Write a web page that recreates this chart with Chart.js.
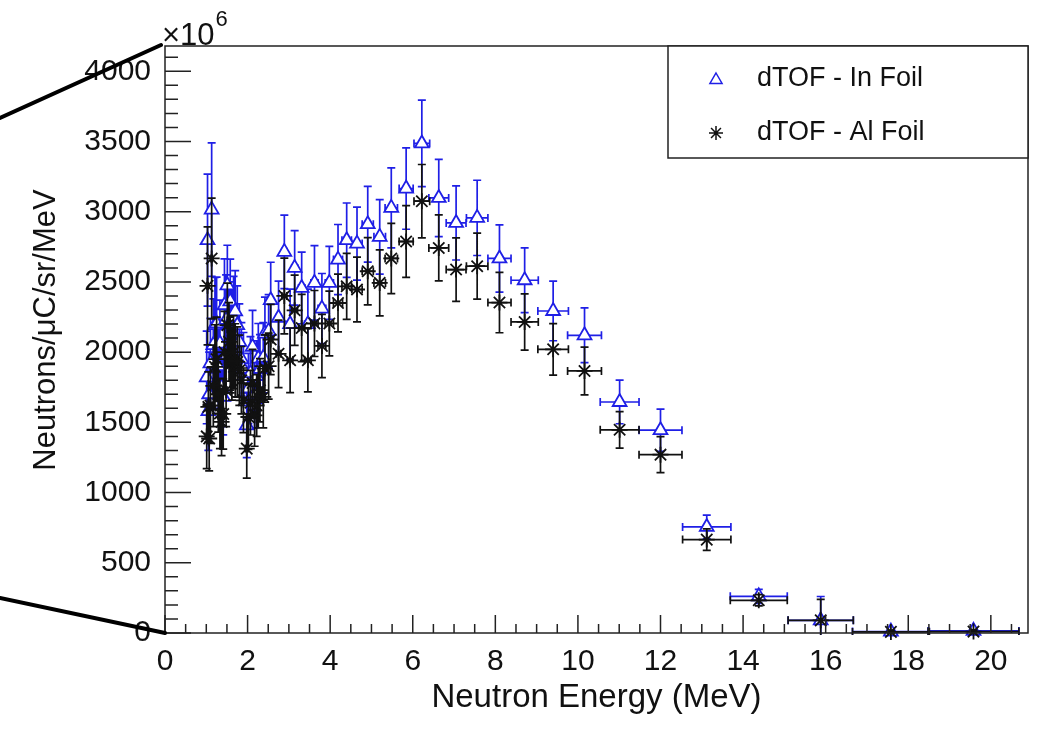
<!DOCTYPE html>
<html>
<head>
<meta charset="utf-8">
<script src="https://cdn.jsdelivr.net/npm/chart.js@4.4.1/dist/chart.umd.min.js"></script>
<style>
  html, body { margin: 0; padding: 0; background: #fff; }
</style>
</head>
<body>
<canvas id="chart" width="1038" height="729"></canvas>
<script>
"use strict";
// neutron energy (MeV) and half bin width
const energy = [
  1.01, 1.03, 1.05, 1.07, 1.10, 1.13, 1.17, 1.21, 1.25, 1.29, 1.33, 1.37, 1.41, 1.44, 1.48, 1.51, 1.55,
  1.58, 1.62, 1.66, 1.70, 1.75, 1.80, 1.85, 1.90, 1.98, 2.02, 2.07, 2.12, 2.17, 2.22, 2.26, 2.30, 2.38,
  2.42, 2.51, 2.56, 2.75, 2.89, 3.03, 3.14, 3.31, 3.46, 3.62, 3.80, 3.98, 4.19, 4.40, 4.65, 4.91, 5.20,
  5.48, 5.84, 6.22, 6.63, 7.05, 7.56, 8.10, 8.71, 9.40, 10.16, 11.01, 12.00, 13.12, 14.38, 15.88, 17.58, 19.58,
];
const energyErr = [
  0.015, 0.015, 0.015, 0.016, 0.016, 0.017, 0.018, 0.018, 0.019, 0.02, 0.02, 0.021, 0.022, 0.022, 0.023, 0.024, 0.025,
  0.026, 0.026, 0.027, 0.028, 0.029, 0.03, 0.031, 0.033, 0.035, 0.036, 0.037, 0.038, 0.04, 0.041, 0.042, 0.043, 0.045,
  0.047, 0.05, 0.051, 0.057, 0.062, 0.066, 0.07, 0.076, 0.081, 0.087, 0.094, 0.1, 0.11, 0.115, 0.125, 0.135, 0.14,
  0.15, 0.17, 0.19, 0.24, 0.24, 0.26, 0.28, 0.33, 0.37, 0.41, 0.47, 0.52, 0.585, 0.69, 0.79, 0.93, 1.1,
];
// dTOF - In Foil (x10^6)
const inFoil = [
  1820, 2797, 1580, 1700, 1920, 3015, 2050, 2192, 2204, 1900, 2061, 1750, 1681, 2334, 2230, 2476, 2200,
  2362, 2150, 2250, 2290, 2192, 2073, 1950, 1880, 1479, 1741, 1850, 2037, 1700, 1830, 1954, 1880, 1960,
  2132, 2150, 2370, 2245, 2714, 2199, 2600, 2457, 2199, 2493, 2310, 2493, 2659, 2797, 2773, 2911, 2821,
  3027, 3165, 3486, 3098, 2920, 2956, 2667, 2512, 2293, 2120, 1645, 1444, 755, 261, 90, 10, 15,
];
const inFoilErr = [
  330, 470, 280, 300, 320, 475, 330, 340, 330, 300, 310, 280, 270, 330, 320, 285, 300,
  300, 290, 290, 290, 280, 270, 260, 260, 230, 250, 260, 260, 240, 250, 250, 245, 250,
  260, 260, 270, 260, 262, 250, 265, 255, 250, 265, 250, 260, 250, 265, 260, 270, 265,
  285, 290, 308, 275, 264, 268, 239, 230, 212, 195, 155, 150, 85, 50, 170, 12, 12,
];
// dTOF - Al Foil (x10^6)
const alFoil = [
  1400, 2472, 1610, 1385, 1620, 2667, 1760, 1895, 1950, 1700, 1563, 1503, 1560, 2000, 1729, 2192, 2073,
  1980, 1919, 2000, 1942, 1930, 1871, 1800, 1657, 1313, 1538, 1640, 1780, 1550, 1620, 1681, 1729, 1681,
  1883, 1900, 2090, 1988, 2400, 1942, 2298, 2172, 1942, 2204, 2044, 2204, 2350, 2469, 2446, 2576, 2493,
  2667, 2788, 3075, 2742, 2588, 2612, 2353, 2215, 2020, 1866, 1447, 1270, 665, 233, 90, 8, 10,
];
const alFoilErr = [
  230, 420, 250, 230, 270, 430, 290, 300, 300, 270, 250, 240, 250, 290, 260, 300, 280,
  270, 260, 260, 260, 250, 250, 240, 230, 210, 230, 230, 240, 220, 220, 220, 225, 220,
  240, 235, 250, 240, 270, 230, 250, 240, 225, 235, 225, 230, 206, 235, 230, 240, 235,
  250, 255, 261, 235, 226, 235, 215, 200, 183, 170, 130, 128, 76, 40, 150, 10, 10,
];
const yLabelStep = 500;
const xLabelStep = 2;

const FONT = "'Liberation Sans', Arial, Helvetica, sans-serif";
const BLUE = "#1f1fe6";
const BLACK = "#111";

const toPoints = (ys, errs) =>
  energy.map((e, i) => ({ x: e, y: ys[i], xErr: energyErr[i], yErr: errs[i] }));

// error bars with end caps, like ROOT's "E" option
const errorBars = {
  id: "errorBars",
  beforeDatasetDraw(chart, args) {
    const ds = chart.data.datasets[args.index];
    const { ctx, chartArea: a, scales } = chart;
    const cap = 4;
    ctx.save();
    ctx.beginPath();
    ctx.rect(a.left, a.top - 2, a.width, a.height + 4);
    ctx.clip();
    ctx.strokeStyle = ds.borderColor;
    ctx.lineWidth = 1.7;
    ctx.beginPath();
    ds.data.forEach((p) => {
      const px = scales.x.getPixelForValue(p.x);
      const py = scales.y.getPixelForValue(p.y);
      const xl = scales.x.getPixelForValue(p.x - p.xErr);
      const xr = scales.x.getPixelForValue(p.x + p.xErr);
      const yt = scales.y.getPixelForValue(p.y + p.yErr);
      const yb = scales.y.getPixelForValue(p.y - p.yErr);
      ctx.moveTo(px, yt); ctx.lineTo(px, yb);
      ctx.moveTo(px - cap, yt); ctx.lineTo(px + cap, yt);
      ctx.moveTo(px - cap, yb); ctx.lineTo(px + cap, yb);
      ctx.moveTo(xl, py); ctx.lineTo(xr, py);
      ctx.moveTo(xl, py - cap); ctx.lineTo(xl, py + cap);
      ctx.moveTo(xr, py - cap); ctx.lineTo(xr, py + cap);
    });
    ctx.stroke();
    ctx.restore();
  },
};

function drawTriangle(ctx, cx, cy, r) {
  ctx.beginPath();
  ctx.moveTo(cx, cy - r);
  ctx.lineTo(cx + r * 0.866, cy + r * 0.5);
  ctx.lineTo(cx - r * 0.866, cy + r * 0.5);
  ctx.closePath();
  ctx.stroke();
}
function drawStar(ctx, cx, cy, r) {
  const d = r * 0.707;
  ctx.beginPath();
  ctx.moveTo(cx - r, cy); ctx.lineTo(cx + r, cy);
  ctx.moveTo(cx, cy - r); ctx.lineTo(cx, cy + r);
  ctx.moveTo(cx - d, cy - d); ctx.lineTo(cx + d, cy + d);
  ctx.moveTo(cx - d, cy + d); ctx.lineTo(cx + d, cy - d);
  ctx.stroke();
}

// frame, inner ticks, legend box, titles and the zoom lines on the left
const rootFrame = {
  id: "rootFrame",
  afterDraw(chart) {
    const { ctx, chartArea: a, scales } = chart;
    ctx.save();
    ctx.strokeStyle = "#222";
    ctx.lineWidth = 1.5;
    ctx.strokeRect(a.left, a.top, a.width, a.height);

    ctx.beginPath();
    scales.y.ticks.forEach((t) => {
      const py = scales.y.getPixelForValue(t.value);
      const len = t.value % yLabelStep === 0 ? 26 : 13;
      ctx.moveTo(a.left, py); ctx.lineTo(a.left + len, py);
    });
    scales.x.ticks.forEach((t) => {
      const px = scales.x.getPixelForValue(t.value);
      const len = Math.abs(t.value % xLabelStep) < 1e-6 ? 18 : 9;
      ctx.moveTo(px, a.bottom); ctx.lineTo(px, a.bottom - len);
    });
    ctx.stroke();

    // legend
    const lw = 360, lh = 112;
    const lx = a.right - lw, ly = a.top;
    ctx.fillStyle = "#fff";
    ctx.fillRect(lx, ly, lw, lh);
    ctx.strokeStyle = "#222";
    ctx.lineWidth = 1.5;
    ctx.strokeRect(lx, ly, lw, lh);
    const sets = chart.data.datasets;
    ctx.font = "27px " + FONT;
    ctx.textBaseline = "middle";
    ctx.textAlign = "left";
    sets.forEach((ds, i) => {
      const yy = ly + 33 + i * 54;
      ctx.strokeStyle = ds.borderColor;
      ctx.lineWidth = 1.5;
      if (ds.pointStyle === "triangle") drawTriangle(ctx, lx + 48, yy + 1, 7);
      else drawStar(ctx, lx + 48, yy, 7);
      ctx.fillStyle = "#111";
      ctx.fillText(ds.label, lx + 89, yy);
    });

    // exponent
    ctx.fillStyle = "#111";
    ctx.textBaseline = "alphabetic";
    ctx.font = "31px " + FONT;
    ctx.fillText("\u00d710", a.left - 3, a.top - 1);
    const w = ctx.measureText("\u00d710").width;
    ctx.font = "22px " + FONT;
    ctx.fillText("6", a.left - 3 + w + 1, a.top - 20);

    // y title
    ctx.save();
    ctx.translate(46, 330);
    ctx.rotate(-Math.PI / 2);
    ctx.font = "31px " + FONT;
    ctx.textAlign = "center";
    ctx.textBaseline = "middle";
    ctx.fillText("Neutrons/\u03bcC/sr/MeV", 0, 0);
    ctx.restore();

    // zoom lines toward the previous panel
    ctx.strokeStyle = "#000";
    ctx.lineWidth = 4;
    ctx.lineCap = "round";
    ctx.beginPath();
    ctx.moveTo(0, 118); ctx.lineTo(a.left - 4, a.top - 1);
    ctx.moveTo(0, 598); ctx.lineTo(a.left, a.bottom);
    ctx.stroke();
    ctx.restore();
  },
};

Chart.defaults.font.family = FONT;
Chart.defaults.color = "#111";

new Chart(document.querySelector("#chart").getContext("2d"), {
  type: "scatter",
  data: {
    datasets: [
      {
        label: "dTOF - In Foil",
        data: toPoints(inFoil, inFoilErr),
        pointStyle: "triangle",
        pointRadius: 8,
        borderColor: BLUE,
        backgroundColor: "#fff",
        borderWidth: 1.8,
        order: 2,
        clip: 12,
      },
      {
        label: "dTOF - Al Foil",
        data: toPoints(alFoil, alFoilErr),
        pointStyle: "star",
        pointRadius: 8,
        borderColor: BLACK,
        backgroundColor: BLACK,
        borderWidth: 1.8,
        order: 1,
        clip: 12,
      },
    ],
  },
  options: {
    responsive: false,
    animation: false,
    devicePixelRatio: 1,
    layout: { padding: { top: 46, right: 10, left: 0, bottom: 0 }, autoPadding: false },
    plugins: { legend: { display: false }, tooltip: { enabled: false } },
    scales: {
      x: {
        type: "linear",
        min: 0,
        max: 20.9,
        grid: { display: false, drawTicks: false },
        border: { display: false },
        ticks: {
          stepSize: 0.5,
          includeBounds: false,
          autoSkip: false,
          maxRotation: 0,
          padding: 11,
          font: { size: 30 },
          callback: (v) => (Math.abs(v % xLabelStep) < 1e-6 ? String(Math.round(v)) : ""),
        },
        title: {
          display: true,
          text: "Neutron Energy (MeV)",
          font: { size: 33 },
          padding: { top: 0, bottom: 11 },
        },
        afterFit: (scale) => { scale.height = 96; },
      },
      y: {
        type: "linear",
        min: 0,
        max: 4180,
        grid: { display: false, drawTicks: false },
        border: { display: false },
        ticks: {
          stepSize: 100,
          includeBounds: false,
          autoSkip: false,
          padding: 14,
          font: { size: 30 },
          callback: (v) => (v % yLabelStep === 0 ? String(v) : ""),
        },
        afterFit: (scale) => { scale.width = 165; },
      },
    },
  },
  plugins: [errorBars, rootFrame],
});
</script>
</body>
</html>
